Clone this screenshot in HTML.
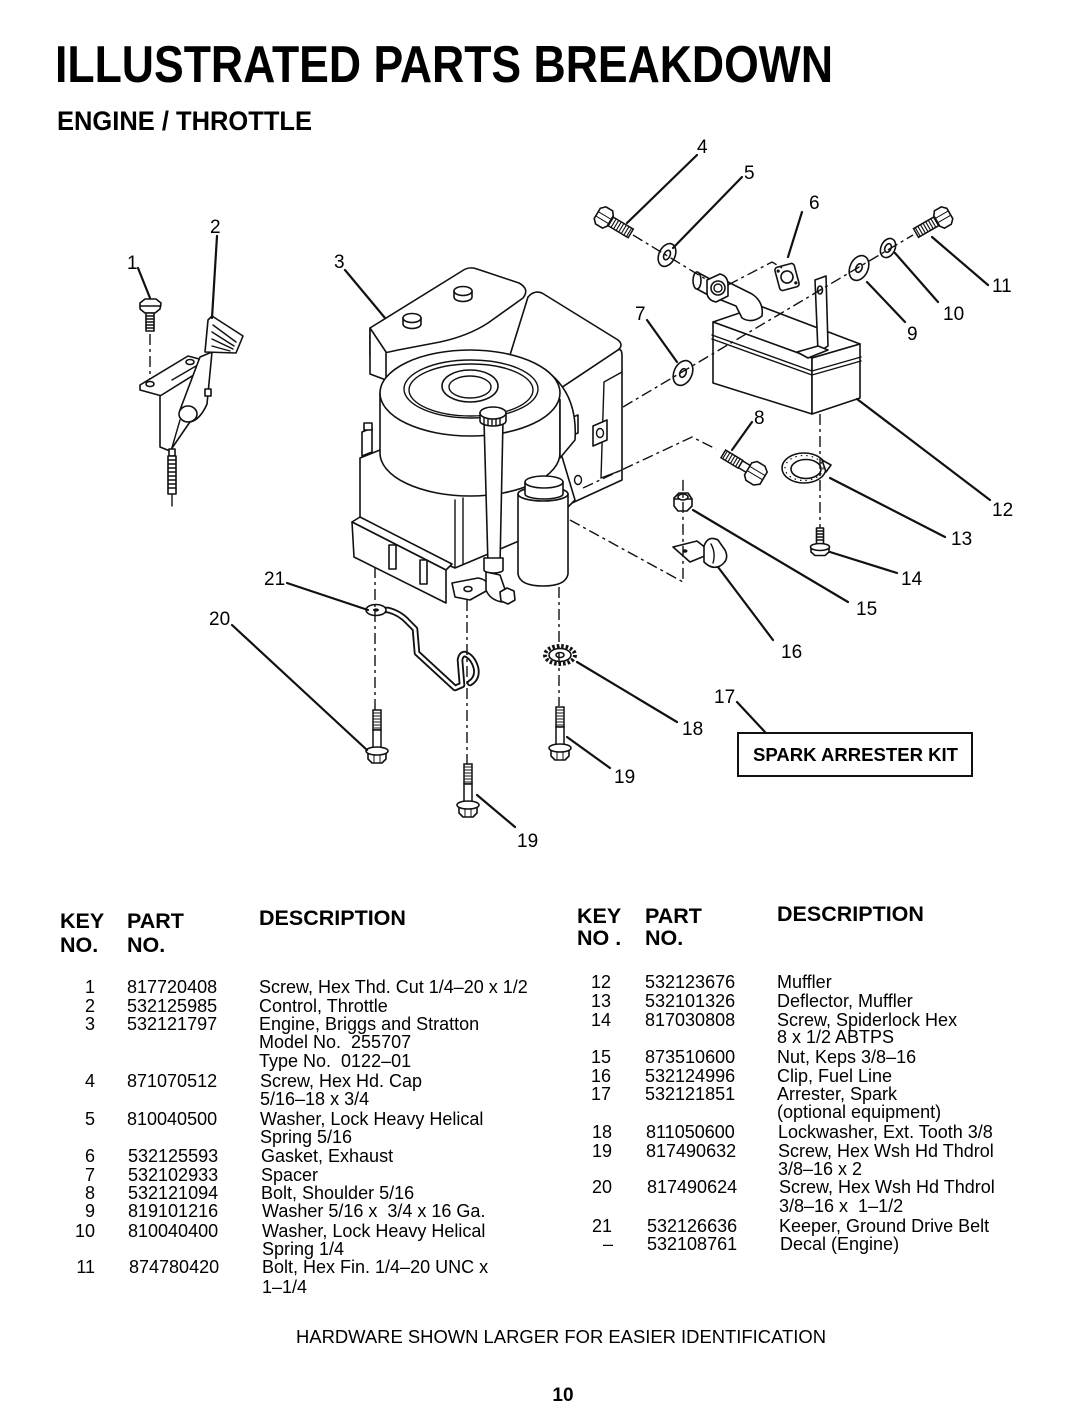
<!DOCTYPE html>
<html><head><meta charset="utf-8">
<style>
html,body{margin:0;padding:0;background:#fff;}
svg{display:block}
text{font-family:"Liberation Sans",Arial,sans-serif;fill:#000;white-space:pre}
.o{fill:#fff;stroke:#111;stroke-width:1.6;stroke-linejoin:round;stroke-linecap:round}
.n{fill:none;stroke:#111;stroke-width:1.4;stroke-linejoin:round;stroke-linecap:round}
.l{fill:none;stroke:#111;stroke-width:2.2;stroke-linecap:round}
.d{fill:none;stroke:#111;stroke-width:1.4;stroke-dasharray:11 4 3 4}
.lb{font-size:19px}
.t{font-size:18px}
.h{font-size:21.5px;font-weight:bold}
</style></head>
<body>
<svg width="1080" height="1413" viewBox="0 0 1080 1413" xmlns="http://www.w3.org/2000/svg">
<defs>
 <g id="bolt">
  <rect x="4" y="-5" width="26" height="10" fill="#fff" stroke="#111" stroke-width="1.5"/>
  <path d="M7,-5V5M10,-5V5M13,-5V5M16,-5V5M19,-5V5M22,-5V5M25,-5V5M28,-5V5" stroke="#111" stroke-width="1.1" fill="none"/>
  <path d="M-9,-6 L-5,-10 L3,-10 L6,-6 L6,6 L3,10 L-5,10 L-9,6 Z" fill="#fff" stroke="#111" stroke-width="1.6" stroke-linejoin="round"/>
  <path d="M-9,-2H6M-9,3H6" stroke="#111" stroke-width="1" fill="none"/>
 </g>
 <g id="sbolt">
  <rect x="5" y="-4" width="12" height="8" fill="#fff" stroke="#111" stroke-width="1.5"/>
  <rect x="17" y="-4.5" width="20" height="9" fill="#fff" stroke="#111" stroke-width="1.5"/>
  <path d="M20,-4.5V4.5M23,-4.5V4.5M26,-4.5V4.5M29,-4.5V4.5M32,-4.5V4.5M35,-4.5V4.5" stroke="#111" stroke-width="1.1" fill="none"/>
  <path d="M-10,-7 L-5,-11 L4,-11 L8,-7 L8,7 L4,11 L-5,11 L-10,7 Z" fill="#fff" stroke="#111" stroke-width="1.6" stroke-linejoin="round"/>
  <path d="M-10,-2H8M-10,3H8" stroke="#111" stroke-width="1" fill="none"/>
 </g>
 <g id="vbolt">
  <rect x="-4" y="-42" width="8" height="20" fill="#fff" stroke="#111" stroke-width="1.5"/>
  <path d="M-4,-39H4M-4,-36H4M-4,-33H4M-4,-30H4M-4,-27H4M-4,-24H4" stroke="#111" stroke-width="1.1" fill="none"/>
  <rect x="-4" y="-22" width="8" height="19" fill="#fff" stroke="#111" stroke-width="1.5"/>
  <path d="M-9,0 L-9,7 L-5,11 L5,11 L9,7 L9,0 Z" fill="#fff" stroke="#111" stroke-width="1.6" stroke-linejoin="round"/>
  <path d="M-3,1V11M3,1V11" stroke="#111" stroke-width="1" fill="none"/>
  <ellipse cx="0" cy="-1" rx="11" ry="4" fill="#fff" stroke="#111" stroke-width="1.6"/>
 </g>
</defs>

<!-- Titles -->
<text x="55" y="82" font-size="52" font-weight="bold" textLength="778" lengthAdjust="spacingAndGlyphs">ILLUSTRATED PARTS BREAKDOWN</text>
<text x="57" y="130" font-size="27" font-weight="bold" textLength="255" lengthAdjust="spacingAndGlyphs">ENGINE / THROTTLE</text>

<!-- ========== THROTTLE CONTROL ========== -->
<path class="d" d="M150,334 L150,384"/>
<path class="o" d="M140,303 L145,299 L156,299 L161,303 L160,309 L155,313 L145,313 L140,309 Z"/>
<path class="n" d="M140,306 L161,306"/>
<rect class="o" x="146" y="313" width="8" height="18"/>
<path class="n" stroke-width="1" d="M146,316H154M146,319H154M146,322H154M146,325H154M146,328H154"/>
<path class="o" d="M140,385 L188,356 L203,360 L205,368 L162,396 L140,390 Z"/>
<ellipse class="o" cx="150" cy="384" rx="4" ry="2.5"/>
<ellipse class="o" cx="190" cy="362" rx="4" ry="2.5"/>
<path class="o" d="M160,396 L160,447 L170,451 L205,400 L205,368 Z"/>
<path class="n" d="M172,380 L196,366"/>
<path class="o" d="M180,410 L200,357 L212,352 L207,404 Q200,420 190,422 Z"/>
<ellipse class="o" cx="188" cy="414" rx="9" ry="8"/>
<rect class="o" x="205" y="389" width="6" height="7"/>
<path class="o" d="M208,320 L212,316 L243,336 L236,353 L205,352 Z"/>
<path class="n" stroke-width="1.2" d="M213,325 L236,342 M212,332 L234,346 M212,339 L233,349 M212,346 L230,351"/>
<path class="n" d="M180,420 L171,451"/>
<rect class="o" x="169" y="449" width="6" height="7"/>
<rect class="o" x="168" y="456" width="8" height="38"/>
<path class="n" stroke-width="1" d="M168,460H176M168,464H176M168,468H176M168,472H176M168,476H176M168,480H176M168,484H176M168,488H176"/>
<path class="n" d="M172,494 L172,506"/>

<!-- ========== ENGINE ========== -->
<!-- right block -->
<path class="o" d="M528,297 Q534,290 542,293 L618,340 Q624,345 618,350 L555,392 L510,355 Z"/>
<path class="o" d="M555,392 L618,350 Q622,348 622,356 L622,480 L572,503 L552,500 Z"/>
<path class="n" d="M622,372 L604,382 L601,478 L622,470"/>
<path class="o" d="M563,421 L578,415 L578,433 L563,439 Z"/>
<ellipse class="n" cx="570.5" cy="427" rx="3.5" ry="4.5"/>
<path class="o" d="M593,426 L607,420 L607,440 L593,446 Z"/>
<ellipse class="n" cx="600" cy="433" rx="3.5" ry="4.5"/>
<ellipse class="n" cx="578" cy="480" rx="3.5" ry="4.5"/>

<!-- rear shroud -->
<path class="o" d="M370,328 L462,271 Q469,266 477,269 L519,283 Q530,289 523,298 L488,323 Q468,336 440,342 L398,350 Q380,354 370,356 Z"/>
<path class="o" d="M370,328 L370,374 L386,380 L386,352 Z"/>
<!-- caps -->
<path class="o" d="M403,318 L403,324 A9,4.5 0 0 0 421,324 L421,318 Z"/>
<ellipse class="o" cx="412" cy="318" rx="9" ry="4.5"/>
<path class="o" d="M454,291 L454,297 A9,4.5 0 0 0 472,297 L472,291 Z"/>
<ellipse class="o" cx="463" cy="291" rx="9" ry="4.5"/>

<!-- lower crankcase -->
<path class="o" d="M360,458 L380,450 L560,450 L575,500 L545,530 L455,568 L360,527 Z"/>
<path class="n" d="M455,500 L455,567 M463,498 L463,564"/>
<path class="o" d="M362,432 L362,456 L372,452 L372,428 Z"/>
<rect class="o" x="364" y="423" width="8" height="7"/>

<!-- flywheel shroud -->
<path class="o" d="M380,393 L380,453 A90,43 0 0 0 560,453 L560,393 Z"/>
<path class="o" d="M548,372 Q578,395 575,440 L560,458 L560,400 Z"/>
<ellipse class="o" cx="470" cy="393" rx="90" ry="43"/>
<ellipse class="n" cx="471" cy="389" rx="67" ry="29"/>
<ellipse class="n" cx="471" cy="390" rx="62" ry="26"/>
<ellipse class="o" cx="470" cy="386" rx="28" ry="16"/>
<ellipse class="n" cx="470" cy="387" rx="21" ry="11"/>

<!-- sump -->
<path class="o" d="M352,522 L360,517 L452,564 L446,570 Z"/>
<path class="o" d="M352,522 L446,570 L446,603 L354,557 Z"/>
<rect class="o" x="389" y="545" width="7" height="24"/>
<rect class="o" x="420" y="560" width="7" height="24"/>
<path class="o" d="M452,583 L478,578 Q490,580 488,590 L470,600 L455,597 Z"/>
<ellipse class="o" cx="468" cy="589" rx="4" ry="2.5"/>

<!-- oil filter -->
<path class="o" d="M518,494 L518,574 Q520,586 543,586 Q566,586 568,574 L568,494 Z"/>
<ellipse class="o" cx="543" cy="494" rx="25" ry="7"/>
<path class="o" d="M525,482 L525,494 A19,5 0 0 0 563,494 L563,482 Z"/>
<ellipse class="o" cx="544" cy="482" rx="19" ry="6"/>

<!-- dipstick -->
<path class="o" d="M484,420 L488,565 L500,565 L503,420 Z"/>
<path class="o" d="M480,413 L480,421 A13,5 0 0 0 506,421 L506,413 Z"/>
<path class="n" stroke-width="1" d="M484,415V424M488,416V425M492,416V426M496,416V426M500,416V425"/>
<ellipse class="o" cx="493" cy="413" rx="13" ry="6"/>
<path class="o" d="M484,558 L484,570 A9.5,3 0 0 0 503,570 L503,558 Z"/>
<path class="o" d="M486,572 L486,590 Q490,600 502,602 L508,598 L500,575 Z"/>
<path class="o" d="M500,592 L507,588 L514,591 L515,600 L508,604 L501,601 Z"/>

<!-- ========== MUFFLER ========== -->
<path class="o" d="M713,322 L760,306 L860,344 L812,358 Z"/>
<path class="o" d="M713,322 L812,358 L812,414 L713,383 Z"/>
<path class="o" d="M812,358 L860,344 L860,398 L812,414 Z"/>
<path class="n" d="M712,335 L812,371 L861,357"/>
<path class="n" d="M712,339 L812,375 L861,361"/>
<!-- strap -->
<path class="o" d="M815,280 L826,276 L828,346 L818,352 Z"/>
<path class="o" d="M797,352 L818,346 L828,350 L808,358 Z"/>
<ellipse class="o" cx="820" cy="290" rx="2.5" ry="4"/>
<!-- elbow & flange -->
<path class="o" d="M722,279 L752,294 Q764,302 762,316 Q752,324 742,318 L736,306 L716,298 Z"/>
<path class="o" d="M697,272 L710,279 L710,296 L697,289 Z"/>
<ellipse class="o" cx="697" cy="280.5" rx="4" ry="8.5"/>
<path class="o" d="M707,280 L720,274 Q728,276 728,285 L728,296 L716,302 Q707,300 707,292 Z"/>
<circle class="o" cx="718" cy="288" r="7"/>
<circle class="n" cx="718" cy="288" r="4"/>

<!-- gasket 6 -->
<g transform="rotate(-15 787 277)">
<rect class="o" x="777" y="265" width="20" height="24" rx="3"/>
<circle class="o" cx="787" cy="277" r="6"/>
<circle cx="780" cy="269" r="1.6" fill="#111"/>
<circle cx="794" cy="285" r="1.6" fill="#111"/>
</g>

<!-- washers -->
<g transform="rotate(25 667 255)"><ellipse class="o" cx="667" cy="255" rx="8" ry="12"/><ellipse class="o" cx="667" cy="255" rx="3" ry="5"/></g>
<g transform="rotate(25 683 373)"><ellipse class="o" cx="683" cy="373" rx="9" ry="13"/><ellipse class="o" cx="683" cy="373" rx="3" ry="4.5"/></g>
<g transform="rotate(25 859 268)"><ellipse class="o" cx="859" cy="268" rx="9" ry="13"/><ellipse class="o" cx="859" cy="268" rx="3" ry="4.5"/></g>
<g transform="rotate(25 888 248)"><ellipse class="o" cx="888" cy="248" rx="7" ry="10"/><ellipse class="o" cx="888" cy="248" rx="3" ry="4.5"/></g>

<!-- bolts 4, 11, 8 -->
<use href="#bolt" transform="translate(605,218) rotate(31)"/>
<use href="#bolt" transform="translate(942,218) rotate(150)"/>
<use href="#sbolt" transform="translate(755,473) rotate(211)"/>

<!-- deflector 13 -->
<ellipse cx="804" cy="468" rx="22" ry="15" fill="#fff" stroke="#111" stroke-width="1.6"/>
<ellipse cx="804" cy="468" rx="19" ry="12.5" fill="none" stroke="#111" stroke-width="1.2" stroke-dasharray="1.5 4"/>
<ellipse class="o" cx="806" cy="469" rx="15" ry="9.5"/>
<path class="o" d="M822,460 L831,465 L826,472 Z"/>

<!-- screw 14 -->
<rect class="o" x="816.5" y="528" width="7" height="17"/>
<path class="n" stroke-width="1" d="M816.5,531H823.5M816.5,534H823.5M816.5,537H823.5M816.5,540H823.5"/>
<path class="o" d="M811,547 L811,552 L815,555.5 L825,555.5 L829,552 L829,547 Z"/>
<ellipse class="o" cx="820" cy="547" rx="9.5" ry="3.5"/>

<!-- nut 15 -->
<path class="o" d="M674,498 L679,493 L688,493 L692,499 L692,506 L687,511 L678,511 L674,506 Z"/>
<path class="n" d="M674,499 L692,499"/>
<ellipse class="o" cx="683" cy="497" rx="5" ry="3"/>

<!-- clip 16 -->
<path class="o" d="M673,547 L697,541 L712,553 L690,562 Z"/>
<ellipse cx="685" cy="551" rx="2.5" ry="1.8" fill="#111"/>
<path class="o" d="M704,546 Q708,535 718,540 L725,550 Q730,560 720,566 Q712,570 704,562 Z"/>
<path class="n" d="M711,544 Q716,553 713,563"/>

<!-- lockwasher 18 -->
<ellipse cx="560" cy="655" rx="15" ry="9" fill="#fff" stroke="#111" stroke-width="4" stroke-dasharray="2.5 2"/>
<ellipse class="o" cx="560" cy="655" rx="11" ry="6.5"/>
<ellipse class="o" cx="560" cy="655" rx="4" ry="2.5"/>

<!-- keeper 21 -->
<path d="M375,610 L388,610 Q400,613 408,622 L415,629 L417,653 L455,688 L462,685 L460,660 Q461,654 465,654 Q473,657 476,668 Q478,678 470,683" fill="none" stroke="#111" stroke-width="6.5" stroke-linejoin="round" stroke-linecap="round"/>
<path d="M375,610 L388,610 Q400,613 408,622 L415,629 L417,653 L455,688 L462,685 L460,660 Q461,654 465,654 Q473,657 476,668 Q478,678 470,683" fill="none" stroke="#fff" stroke-width="2.8" stroke-linejoin="round" stroke-linecap="round"/>
<ellipse class="o" cx="376" cy="610" rx="10" ry="5.5"/>
<ellipse cx="376" cy="610" rx="3" ry="1.6" fill="#111"/>

<!-- bolts 20, 19, 19 -->
<use href="#vbolt" transform="translate(377,752)"/>
<use href="#vbolt" transform="translate(468,806)"/>
<use href="#vbolt" transform="translate(560,749)"/>

<!-- ========== DASHED CENTER LINES ========== -->
<path class="d" d="M623,407 L913,235"/>
<path class="d" d="M633,235 L707,280"/>
<path class="d" d="M728,285 L772,262 L782,268"/>
<path class="d" d="M583,488 L692,437 L716,449"/>
<path class="d" d="M570,520 L683,582 L683,476"/>
<path class="d" d="M820,414 L820,528"/>
<path class="d" d="M375,567 L375,710"/>
<path class="d" d="M467,600 L467,764"/>
<path class="d" d="M559,587 L559,706"/>

<!-- ========== LEADERS ========== -->
<path class="l" d="M138,268 L150,298"/>
<path class="l" d="M217,236 L212,318"/>
<path class="l" d="M345,270 L385,318"/>
<path class="l" d="M697,155 L627,223"/>
<path class="l" d="M742,177 L673,248"/>
<path class="l" d="M802,212 L788,257"/>
<path class="l" d="M647,320 L677,362"/>
<path class="l" d="M752,422 L732,450"/>
<path class="l" d="M867,282 L905,322"/>
<path class="l" d="M895,253 L938,302"/>
<path class="l" d="M932,237 L988,285"/>
<path class="l" d="M857,399 L990,500"/>
<path class="l" d="M830,478 L945,537"/>
<path class="l" d="M830,552 L897,573"/>
<path class="l" d="M693,510 L848,602"/>
<path class="l" d="M718,567 L773,640"/>
<path class="l" d="M737,702 L765,732"/>
<path class="l" d="M577,662 L677,722"/>
<path class="l" d="M477,795 L515,827"/>
<path class="l" d="M567,737 L610,768"/>
<path class="l" d="M232,625 L367,750"/>
<path class="l" d="M287,583 L368,610"/>

<!-- ========== CALLOUT LABELS ========== -->
<g class="lb">
<text x="127" y="269">1</text>
<text x="210" y="233">2</text>
<text x="334" y="268">3</text>
<text x="697" y="153">4</text>
<text x="744" y="179">5</text>
<text x="809" y="209">6</text>
<text x="635" y="320">7</text>
<text x="754" y="424">8</text>
<text x="907" y="340">9</text>
<text x="943" y="320">10</text>
<text x="992" y="292">11</text>
<text x="992" y="516">12</text>
<text x="951" y="545">13</text>
<text x="901" y="585">14</text>
<text x="856" y="615">15</text>
<text x="781" y="658">16</text>
<text x="714" y="703">17</text>
<text x="682" y="735">18</text>
<text x="614" y="783">19</text>
<text x="517" y="847">19</text>
<text x="209" y="625">20</text>
<text x="264" y="585">21</text>
</g>

<rect x="738" y="733" width="234" height="43" fill="none" stroke="#111" stroke-width="2"/>
<text x="753" y="761" font-size="18" font-weight="bold" textLength="205" lengthAdjust="spacingAndGlyphs">SPARK ARRESTER KIT</text>

<!-- ========== LEFT TABLE ========== -->
<g class="h">
<text x="60" y="928">KEY</text>
<text x="60" y="952">NO.</text>
<text x="127" y="928">PART</text>
<text x="127" y="952">NO.</text>
<text x="259" y="925">DESCRIPTION</text>
</g>
<g class="t">
<text x="95" y="993" text-anchor="end">1</text><text x="127" y="993">817720408</text><text x="259" y="993">Screw, Hex Thd. Cut 1/4–20 x 1/2</text>
<text x="95" y="1012" text-anchor="end">2</text><text x="127" y="1012">532125985</text><text x="259" y="1012">Control, Throttle</text>
<text x="95" y="1030" text-anchor="end">3</text><text x="127" y="1030">532121797</text><text x="259" y="1030">Engine, Briggs and Stratton</text>
<text x="259" y="1048">Model No.  255707</text>
<text x="259" y="1067">Type No.  0122–01</text>
<text x="95" y="1087" text-anchor="end">4</text><text x="127" y="1087">871070512</text><text x="260" y="1087">Screw, Hex Hd. Cap</text>
<text x="260" y="1105">5/16–18 x 3/4</text>
<text x="95" y="1125" text-anchor="end">5</text><text x="127" y="1125">810040500</text><text x="260" y="1125">Washer, Lock Heavy Helical</text>
<text x="260" y="1143">Spring 5/16</text>
<text x="95" y="1162" text-anchor="end">6</text><text x="128" y="1162">532125593</text><text x="261" y="1162">Gasket, Exhaust</text>
<text x="95" y="1181" text-anchor="end">7</text><text x="128" y="1181">532102933</text><text x="261" y="1181">Spacer</text>
<text x="95" y="1199" text-anchor="end">8</text><text x="128" y="1199">532121094</text><text x="261" y="1199">Bolt, Shoulder 5/16</text>
<text x="95" y="1217" text-anchor="end">9</text><text x="128" y="1217">819101216</text><text x="262" y="1217">Washer 5/16 x  3/4 x 16 Ga.</text>
<text x="95" y="1237" text-anchor="end">10</text><text x="128" y="1237">810040400</text><text x="262" y="1237">Washer, Lock Heavy Helical</text>
<text x="262" y="1255">Spring 1/4</text>
<text x="95" y="1273" text-anchor="end">11</text><text x="129" y="1273">874780420</text><text x="262" y="1273">Bolt, Hex Fin. 1/4–20 UNC x</text>
<text x="262" y="1293">1–1/4</text>
</g>

<!-- ========== RIGHT TABLE ========== -->
<g class="h">
<text x="577" y="923">KEY</text>
<text x="577" y="945">NO .</text>
<text x="645" y="923">PART</text>
<text x="645" y="945">NO.</text>
<text x="777" y="921">DESCRIPTION</text>
</g>
<g class="t">
<text x="611" y="988" text-anchor="end">12</text><text x="645" y="988">532123676</text><text x="777" y="988">Muffler</text>
<text x="611" y="1007" text-anchor="end">13</text><text x="645" y="1007">532101326</text><text x="777" y="1007">Deflector, Muffler</text>
<text x="611" y="1026" text-anchor="end">14</text><text x="645" y="1026">817030808</text><text x="777" y="1026">Screw, Spiderlock Hex</text>
<text x="777" y="1043">8 x 1/2 ABTPS</text>
<text x="611" y="1063" text-anchor="end">15</text><text x="645" y="1063">873510600</text><text x="777" y="1063">Nut, Keps 3/8–16</text>
<text x="611" y="1082" text-anchor="end">16</text><text x="645" y="1082">532124996</text><text x="777" y="1082">Clip, Fuel Line</text>
<text x="611" y="1100" text-anchor="end">17</text><text x="645" y="1100">532121851</text><text x="777" y="1100">Arrester, Spark</text>
<text x="777" y="1118">(optional equipment)</text>
<text x="612" y="1138" text-anchor="end">18</text><text x="646" y="1138">811050600</text><text x="778" y="1138">Lockwasher, Ext. Tooth 3/8</text>
<text x="612" y="1157" text-anchor="end">19</text><text x="646" y="1157">817490632</text><text x="778" y="1157">Screw, Hex Wsh Hd Thdrol</text>
<text x="778" y="1175">3/8–16 x 2</text>
<text x="612" y="1193" text-anchor="end">20</text><text x="647" y="1193">817490624</text><text x="779" y="1193">Screw, Hex Wsh Hd Thdrol</text>
<text x="779" y="1212">3/8–16 x  1–1/2</text>
<text x="612" y="1232" text-anchor="end">21</text><text x="647" y="1232">532126636</text><text x="779" y="1232">Keeper, Ground Drive Belt</text>
<text x="613" y="1250" text-anchor="end">–</text><text x="647" y="1250">532108761</text><text x="780" y="1250">Decal (Engine)</text>
</g>

<!-- ========== FOOTER ========== -->
<text x="296" y="1343" font-size="18" textLength="530" lengthAdjust="spacingAndGlyphs">HARDWARE SHOWN LARGER FOR EASIER IDENTIFICATION</text>
<text x="563" y="1401" font-size="19" font-weight="bold" text-anchor="middle">10</text>
</svg>
</body></html>
